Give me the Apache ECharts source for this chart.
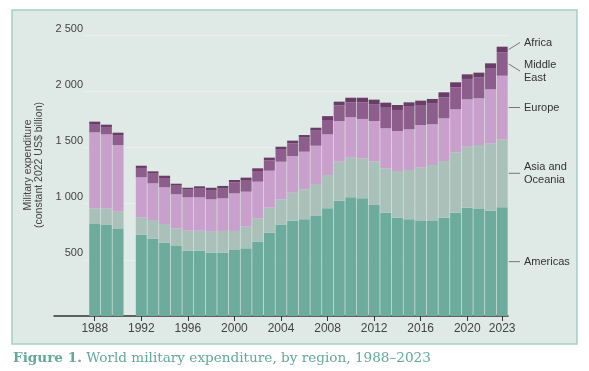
<!DOCTYPE html>
<html><head><meta charset="utf-8">
<script src="https://cdn.jsdelivr.net/npm/echarts@6/dist/echarts.min.js"></script>
<style>html,body{margin:0;padding:0;background:#fff}#c{width:589px;height:371px}</style>
</head><body><div id="c"></div>
<script>
// Years with data (1991 has no world total)
const years = [1988,1989,1990,1992,1993,1994,1995,1996,1997,1998,1999,2000,2001,2002,2003,2004,2005,2006,2007,2008,2009,2010,2011,2012,2013,2014,2015,2016,2017,2018,2019,2020,2021,2022,2023];
// US$ billion, constant 2022
const americas    = [818,810,774,724,688,652,623,581,581,563,563,587,602,661,741,815,848,860,890,958,1026,1056,1047,988,919,875,860,845,845,875,919,964,952,937,967];
const asiaOceania = [140,148,154,154,166,166,157,178,178,187,194,170,193,208,223,223,249,267,284,296,347,353,356,388,395,415,439,475,498,504,537,542,569,600,605];
const europe      = [676,658,593,356,326,327,303,297,297,288,290,334,311,326,329,335,326,335,341,362,362,359,350,359,356,356,362,379,363,380,383,422,416,480,566];
const middleEast  = [74,65,89,83,86,83,76,68,77,77,86,98,104,95,92,113,113,125,134,128,139,133,148,150,183,187,201,178,183,187,196,181,187,189,208];
const africa      = [21,21,21,20,21,20,18,17,21,26,24,21,21,24,24,20,24,23,26,34,33,41,41,40,45,44,39,39,42,44,44,41,41,42,50];

const regionNames = ['Americas','Asia and\nOceania','Europe','Middle\nEast','Africa'];
const regionValues = [americas, asiaOceania, europe, middleEast, africa];
const regionColors = ['#6dac9c','#a9c1b9','#c9a0cb','#8d5e8c','#6a3d68'];

// Category slots of the x axis (first three are empty padding before 1988)
const firstSlot = 1985, lastSlot = 2023;
const categories = [];
for (let y = firstSlot; y <= lastSlot; y++) categories.push(String(y));
const xTickLabels = ['1988','1992','1996','2000','2004','2008','2012','2016','2020','2023'];
const yMax = 2500, yStep = 500;

const chart = echarts.init(document.getElementById('c'), null, {renderer:'canvas'});
const barW = 11;

function fmtY(v){
  if (v === 0) return '';
  if (v >= 1000) return Math.floor(v/1000) + ' ' + String(v % 1000).padStart(3,'0');
  return String(v);
}
const showTick = (idx, val) => xTickLabels.indexOf(String(val)) >= 0;

const series = regionValues.map((vals, k) => ({
  name: regionNames[k],
  type: 'bar',
  stack: 'total',
  xAxisIndex: 1, yAxisIndex: 1,
  barWidth: barW,
  itemStyle: {color: regionColors[k]},
  emphasis: {disabled: true},
  data: categories.map(c => {
    const i = years.indexOf(+c);
    return i >= 0 ? vals[i] : '-';
  })
}));

chart.setOption({
  animation: false,
  backgroundColor: 'transparent',
  grid: [
    {left: 84, right: 81, top: 35, bottom: 55},
    {left: 54, right: 81, top: 35, bottom: 55}
  ],
  xAxis: [
    {gridIndex: 0, type: 'category', data: categories, show: false},
    {gridIndex: 1, type: 'category', data: categories, boundaryGap: true,
      axisLine: {show: true, onZero: false, lineStyle: {color: '#333', width: 1.5}},
      axisTick: {show: true, alignWithLabel: true, interval: showTick, length: 5, lineStyle: {color: '#333', width: 1}},
      axisLabel: {interval: showTick, fontSize: 12, color: '#444', margin: 7, fontFamily: 'Liberation Sans'},
      splitLine: {show: false}}
  ],
  yAxis: [
    {gridIndex: 0, type: 'value', min: 0, max: yMax, interval: yStep,
      axisLine: {show: false}, axisTick: {show: false},
      axisLabel: {formatter: fmtY, fontSize: 11, color: '#444', margin: 1, verticalAlign: 'bottom',
        padding: [0,0,1,0], fontFamily: 'Liberation Sans'},
      splitLine: {show: true, lineStyle: {color: '#e9f0ee', width: 1}}},
    {gridIndex: 1, type: 'value', min: 0, max: yMax, interval: yStep, show: false, splitLine: {show: false}}
  ],
  series: series
});

// Region labels at the right of the last bar
const last = years.length - 1;
const lastYear = String(years[last]);
let cum = 0;
const labels = regionValues.map((vals, k) => {
  const mid = cum + vals[last] / 2;
  cum += vals[last];
  const p = chart.convertToPixel({xAxisIndex: 1, yAxisIndex: 1}, [lastYear, mid]);
  const lines = regionNames[k].split('\n').length;
  return {text: regionNames[k], x0: p[0] + barW / 2 + 1, y0: p[1], y: p[1], h: lines * 13};
});
labels.sort((a, b) => a.y - b.y);
for (let i = 1; i < labels.length; i++) {
  const need = (labels[i-1].h + labels[i].h) / 2 + 9;
  const diff = labels[i].y - labels[i-1].y;
  if (diff < need) {
    const s = (need - diff) / 2;
    labels[i-1].y -= s; labels[i].y += s;
  }
}

const graphics = [
  {type: 'rect', z: -100, silent: true, shape: {x: 12, y: 10, width: 565, height: 334},
    style: {fill: '#dfe9e6', stroke: '#a3d0c4', lineWidth: 1.5}},
  {type: 'text', rotation: Math.PI / 2, x: 33.5, y: 165, silent: true,
    style: {text: 'Military expenditure\n(constant 2022 US$ billion)', fill: '#444',
      font: '10.5px "Liberation Sans"', align: 'center', verticalAlign: 'middle', lineHeight: 11.5}},
  {type: 'text', x: 13, y: 358, silent: true,
    style: {text: '{b|Figure 1.} World military expenditure, by region, 1988–2023',
      fill: '#62aa9a', font: '13.6px "DejaVu Serif"', verticalAlign: 'middle',
      rich: {b: {fontWeight: 'bold', fontSize: 13.6, fontFamily: 'DejaVu Serif', fill: '#62aa9a'}}}}
];
labels.forEach(l => {
  graphics.push({type: 'line', silent: true, shape: {x1: l.x0, y1: l.y0, x2: 520, y2: l.y},
    style: {stroke: '#777', lineWidth: 1}});
  graphics.push({type: 'text', silent: true, x: 524, y: l.y,
    style: {text: l.text, fill: '#333', font: '11px "Liberation Sans"', verticalAlign: 'middle', lineHeight: 13}});
});
chart.setOption({graphic: graphics});
</script></body></html>
